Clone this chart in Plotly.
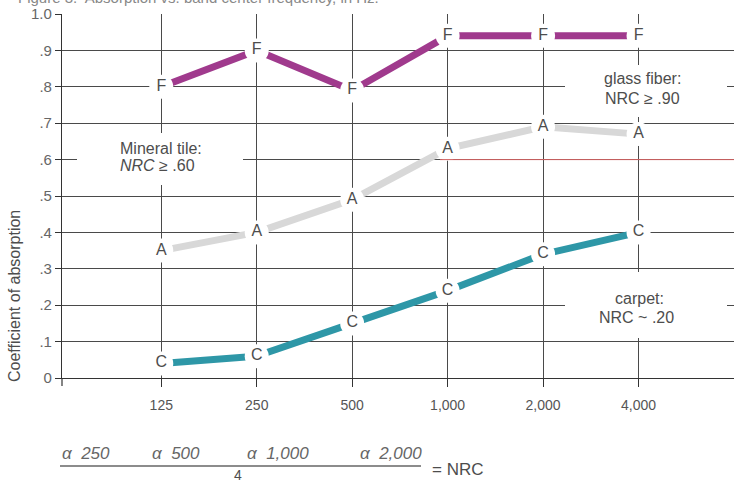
import plotly.graph_objects as go

# Octave band centre frequencies (Hz) and absorption coefficients
freqs = ["125", "250", "500", "1,000", "2,000", "4,000"]
glass_fiber = [0.80, 0.90, 0.79, 0.94, 0.94, 0.94]
mineral_tile = [0.35, 0.40, 0.49, 0.63, 0.69, 0.67]
carpet = [0.04, 0.06, 0.15, 0.24, 0.34, 0.40]

y_ticks = [0, 0.1, 0.2, 0.3, 0.4, 0.5, 0.6, 0.7, 0.8, 0.9, 1.0]
y_tick_labels = ["0", ".1", ".2", ".3", ".4", ".5", ".6", ".7", ".8", ".9", "1.0"]

W, H = 734, 483
L, R, T, B = 62, 0, 14, 105
PW, PH = W - L - R, H - T - B

FONT = "Liberation Sans, Arial, Helvetica, sans-serif"
GRID = "#4a4a4a"
TEXT = "#4d4d4d"


def px_x(p):
    return (p - L) / PW


def px_y(p):
    return (H - B - p) / PH


series = [
    ("glass fiber", glass_fiber, "F", "#a03a8d"),
    ("mineral tile", mineral_tile, "A", "#d8d8d8"),
    ("carpet", carpet, "C", "#2e97a7"),
]

fig = go.Figure()

for name, vals, letter, color in series:
    fig.add_trace(go.Scatter(
        x=freqs,
        y=vals,
        name=name,
        mode="lines+markers+text",
        line=dict(color=color, width=7),
        marker=dict(symbol="circle", size=24, color="white", line=dict(width=0)),
        text=[letter] * len(vals),
        textposition="middle center",
        textfont=dict(family=FONT, size=16, color=TEXT),
        hoverinfo="x+y+name",
    ))

# white boxes behind the labels that break the grid
boxes = [
    (77, 133, 243, 185),
    (565, 65, 727, 117),
    (565, 272, 727, 338),
]
shapes = []
for x0, y0, x1, y1 in boxes:
    shapes.append(dict(type="rect", xref="paper", yref="paper", layer="above",
                       x0=px_x(x0), x1=px_x(x1), y0=px_y(y1), y1=px_y(y0),
                       fillcolor="white", line=dict(width=0)))

# reddish stretch of the .6 line (print misregistration)
shapes.append(dict(type="line", xref="paper", yref="y", layer="above",
                   x0=px_x(440), x1=1, y0=0.6, y1=0.6,
                   line=dict(color="#d06060", width=1)))

# y axis line runs a little below the origin
shapes.append(dict(type="line", xref="paper", yref="paper",
                   x0=0, x1=0, y0=0, y1=px_y(386),
                   line=dict(color="#333", width=1.2)))

# fraction bar of the NRC formula
shapes.append(dict(type="line", xref="paper", yref="paper",
                   x0=px_x(60), x1=px_x(421), y0=px_y(466), y1=px_y(466),
                   line=dict(color="#666", width=1.5)))

LBL = dict(size=16, color=TEXT)
annotations = [
    dict(text="Figure 3.  Absorption vs. band center frequency, in Hz.",
         x=px_x(381), y=px_y(-2), xanchor="right", yanchor="middle",
         font=dict(size=15, color="#888")),
    dict(text="Coefficient of absorption", textangle=-90,
         x=px_x(14), y=px_y(296), xanchor="center", yanchor="middle",
         font=dict(size=16, color=TEXT)),
    dict(text="Mineral tile:", x=px_x(118), y=px_y(148),
         xanchor="left", yanchor="middle", font=LBL),
    dict(text="<i>NRC</i> ≥ .60", x=px_x(118), y=px_y(165),
         xanchor="left", yanchor="middle", font=LBL),
    dict(text="glass fiber:", x=px_x(642), y=px_y(78),
         xanchor="center", yanchor="middle", font=LBL),
    dict(text="NRC ≥ .90", x=px_x(642), y=px_y(99),
         xanchor="center", yanchor="middle", font=LBL),
    dict(text="carpet:", x=px_x(639), y=px_y(298),
         xanchor="center", yanchor="middle", font=LBL),
    dict(text="NRC ~ .20", x=px_x(636), y=px_y(317),
         xanchor="center", yanchor="middle", font=LBL),
]

formula_terms = [("<i>α  250</i>", 60), ("<i>α  500</i>", 150),
                 ("<i>α  1,000</i>", 245), ("<i>α  2,000</i>", 358)]
for txt, x0 in formula_terms:
    annotations.append(dict(text=txt, x=px_x(x0), y=px_y(453),
                            xanchor="left", yanchor="middle",
                            font=dict(size=17, color="#666")))
annotations.append(dict(text="= NRC", x=px_x(430), y=px_y(469),
                        xanchor="left", yanchor="middle",
                        font=dict(size=17, color=TEXT)))
annotations.append(dict(text="4", x=px_x(238), y=px_y(475),
                        xanchor="center", yanchor="middle",
                        font=dict(size=14, color=TEXT)))

for a in annotations:
    a.update(xref="paper", yref="paper", showarrow=False)

fig.update_layout(
    width=W,
    height=H,
    margin=dict(l=L, r=R, t=T, b=B),
    paper_bgcolor="white",
    plot_bgcolor="white",
    showlegend=False,
    font=dict(family=FONT, color=TEXT),
    shapes=shapes,
    annotations=annotations,
    xaxis=dict(
        type="category",
        range=[-1.04, 6.0],
        showgrid=True,
        gridcolor=GRID,
        gridwidth=1,
        showline=True,
        linecolor="#333",
        linewidth=1.2,
        ticks="outside",
        ticklen=8,
        tickcolor="#333",
        ticklabelstandoff=6,
        tickfont=dict(size=14, color="#555"),
        zeroline=False,
    ),
    yaxis=dict(
        range=[0, 1.0],
        tickvals=y_ticks,
        ticktext=y_tick_labels,
        showgrid=True,
        gridcolor=GRID,
        gridwidth=1,
        showline=True,
        linecolor="#333",
        linewidth=1.2,
        ticks="outside",
        ticklen=6,
        tickcolor="#333",
        tickfont=dict(size=15, color="#666"),
        zeroline=False,
    ),
)

# drop the default page margin so the figure sits at the window's corner
fig.write_html("out.html", config={"displayModeBar": False},
               post_script="document.body.style.margin='0';")
